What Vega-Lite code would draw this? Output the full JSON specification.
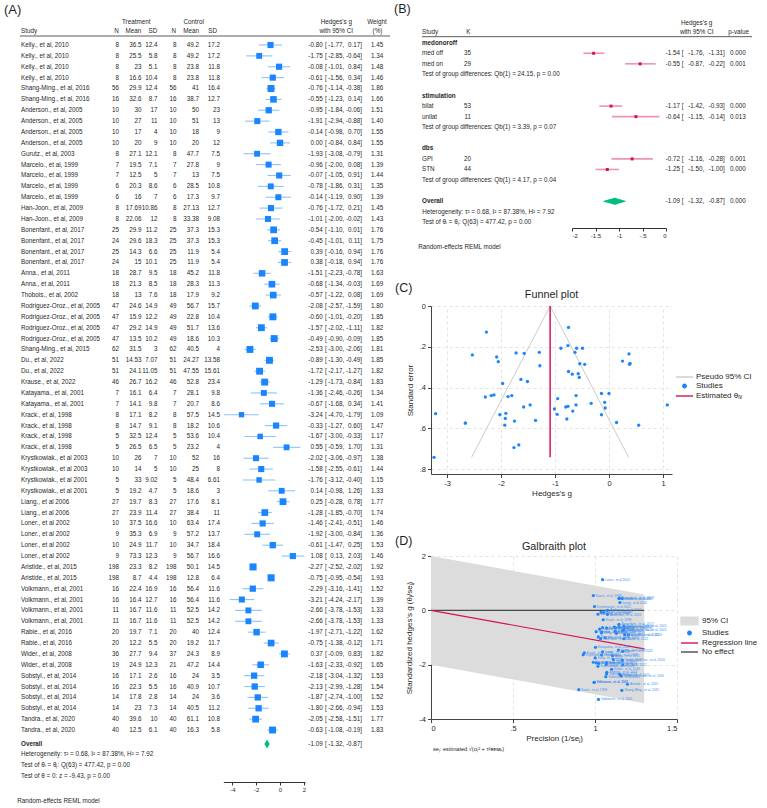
{
  "$schema": "https://vega.github.io/schema/vega-lite/v6.json",
  "padding": 0,
  "background": "white",
  "config": {
    "view": {"stroke": null},
    "font": "Liberation Sans",
    "locale": {"number": {"decimal": ".", "thousands": ",", "grouping": [3], "currency": ["$", ""], "minus": "-"}},
    "text": {"font": "Liberation Sans", "fontSize": 6.3, "baseline": "middle", "color": "#1f1f1f"},
    "axis": {"labelFont": "Liberation Sans", "titleFont": "Liberation Sans", "labelColor": "#1f1f1f", "titleColor": "#1f1f1f", "titleFontWeight": "normal", "domainColor": "#444", "tickColor": "#444", "labelFontSize": 7.5, "titleFontSize": 8, "tickSize": 3.5, "labelPadding": 2},
    "legend": {"labelFont": "Liberation Sans", "labelColor": "#1f1f1f"}
  },
  "datasets": {
    "studies": [
      {"id":1,"study":"Kelly., et al, 2010","nT":8,"mT":36.5,"sdT":12.4,"nC":8,"mC":49.2,"sdC":17.2,"g":-0.80,"lo":-1.77,"hi":0.17,"w":1.45,"se":0.495,"prec":1.040,"zg":-0.832},
      {"id":2,"study":"Kelly., et al, 2010","nT":8,"mT":25.5,"sdT":5.8,"nC":8,"mC":49.2,"sdC":17.2,"g":-1.75,"lo":-2.85,"hi":-0.64,"w":1.34,"se":0.564,"prec":1.001,"zg":-1.752},
      {"id":3,"study":"Kelly., et al, 2010","nT":8,"mT":23,"sdT":5.1,"nC":8,"mC":23.8,"sdC":11.8,"g":-0.08,"lo":-1.01,"hi":0.84,"w":1.48,"se":0.472,"prec":1.053,"zg":-0.084},
      {"id":4,"study":"Kelly., et al, 2010","nT":8,"mT":16.6,"sdT":10.4,"nC":8,"mC":23.8,"sdC":11.8,"g":-0.61,"lo":-1.56,"hi":0.34,"w":1.46,"se":0.485,"prec":1.046,"zg":-0.638},
      {"id":5,"study":"Shang-Ming., et al, 2016","nT":56,"mT":29.9,"sdT":12.4,"nC":56,"mC":41,"sdC":16.4,"g":-0.76,"lo":-1.14,"hi":-0.38,"w":1.86,"se":0.194,"prec":1.181,"zg":-0.897},
      {"id":6,"study":"Shang-Ming., et al, 2016","nT":16,"mT":32.6,"sdT":8.7,"nC":16,"mC":38.7,"sdC":12.7,"g":-0.55,"lo":-1.23,"hi":0.14,"w":1.66,"se":0.350,"prec":1.117,"zg":-0.614},
      {"id":7,"study":"Anderson., et al, 2005","nT":10,"mT":30,"sdT":17,"nC":10,"mC":50,"sdC":23,"g":-0.95,"lo":-1.84,"hi":-0.06,"w":1.51,"se":0.454,"prec":1.062,"zg":-1.009},
      {"id":8,"study":"Anderson., et al, 2005","nT":10,"mT":27,"sdT":11,"nC":10,"mC":51,"sdC":13,"g":-1.91,"lo":-2.94,"hi":-0.88,"w":1.40,"se":0.526,"prec":1.023,"zg":-1.953},
      {"id":9,"study":"Anderson., et al, 2005","nT":10,"mT":17,"sdT":4,"nC":10,"mC":18,"sdC":9,"g":-0.14,"lo":-0.98,"hi":0.70,"w":1.55,"se":0.429,"prec":1.076,"zg":-0.151},
      {"id":10,"study":"Anderson., et al, 2005","nT":10,"mT":20,"sdT":9,"nC":10,"mC":20,"sdC":12,"g":0.00,"lo":-0.84,"hi":0.84,"w":1.55,"se":0.429,"prec":1.076,"zg":0.0},
      {"id":11,"study":"Gurutz., et al, 2003","nT":8,"mT":27.1,"sdT":12.1,"nC":8,"mC":47.7,"sdC":7.5,"g":-1.93,"lo":-3.08,"hi":-0.79,"w":1.31,"se":0.584,"prec":0.990,"zg":-1.910},
      {"id":12,"study":"Marcelo., et al, 1999","nT":7,"mT":19.5,"sdT":7.1,"nC":7,"mC":27.8,"sdC":9,"g":-0.96,"lo":-2.00,"hi":0.08,"w":1.39,"se":0.531,"prec":1.020,"zg":-0.979},
      {"id":13,"study":"Marcelo., et al, 1999","nT":7,"mT":12.5,"sdT":5,"nC":7,"mC":13,"sdC":7.5,"g":-0.07,"lo":-1.05,"hi":0.91,"w":1.44,"se":0.500,"prec":1.037,"zg":-0.073},
      {"id":14,"study":"Marcelo., et al, 1999","nT":6,"mT":20.3,"sdT":8.6,"nC":6,"mC":28.5,"sdC":10.8,"g":-0.78,"lo":-1.86,"hi":0.31,"w":1.35,"se":0.554,"prec":1.007,"zg":-0.785},
      {"id":15,"study":"Marcelo., et al, 1999","nT":6,"mT":16,"sdT":7,"nC":6,"mC":17.3,"sdC":9.7,"g":-0.14,"lo":-1.19,"hi":0.90,"w":1.39,"se":0.533,"prec":1.018,"zg":-0.143},
      {"id":16,"study":"Han-Joon., et al, 2009","nT":8,"mT":17.69,"sdT":10.86,"nC":8,"mC":27.13,"sdC":12.7,"g":-0.76,"lo":-1.72,"hi":0.21,"w":1.45,"se":0.492,"prec":1.041,"zg":-0.791},
      {"id":17,"study":"Han-Joon., et al, 2009","nT":8,"mT":22.06,"sdT":12,"nC":8,"mC":33.38,"sdC":9.08,"g":-1.01,"lo":-2.00,"hi":-0.02,"w":1.43,"se":0.505,"prec":1.034,"zg":-1.044},
      {"id":18,"study":"Bonenfant., et al, 2017","nT":25,"mT":29.9,"sdT":11.2,"nC":25,"mC":37.3,"sdC":15.3,"g":-0.54,"lo":-1.10,"hi":0.01,"w":1.76,"se":0.283,"prec":1.147,"zg":-0.619},
      {"id":19,"study":"Bonenfant., et al, 2017","nT":24,"mT":29.6,"sdT":18.3,"nC":25,"mC":37.3,"sdC":15.3,"g":-0.45,"lo":-1.01,"hi":0.11,"w":1.75,"se":0.286,"prec":1.146,"zg":-0.516},
      {"id":20,"study":"Bonenfant., et al, 2017","nT":25,"mT":14.3,"sdT":6.6,"nC":25,"mC":11.9,"sdC":5.4,"g":0.39,"lo":-0.16,"hi":0.94,"w":1.76,"se":0.281,"prec":1.148,"zg":0.448},
      {"id":21,"study":"Bonenfant., et al, 2017","nT":24,"mT":15,"sdT":10.1,"nC":25,"mC":11.9,"sdC":5.4,"g":0.38,"lo":-0.18,"hi":0.94,"w":1.76,"se":0.286,"prec":1.146,"zg":0.435},
      {"id":22,"study":"Anna., et al, 2011","nT":18,"mT":28.7,"sdT":9.5,"nC":18,"mC":45.2,"sdC":11.8,"g":-1.51,"lo":-2.23,"hi":-0.78,"w":1.63,"se":0.370,"prec":1.107,"zg":-1.671},
      {"id":23,"study":"Anna., et al, 2011","nT":18,"mT":21.3,"sdT":8.5,"nC":18,"mC":28.3,"sdC":11.3,"g":-0.68,"lo":-1.34,"hi":-0.03,"w":1.69,"se":0.334,"prec":1.124,"zg":-0.764},
      {"id":24,"study":"Thobois., et al, 2002","nT":18,"mT":13,"sdT":7.6,"nC":18,"mC":17.9,"sdC":9.2,"g":-0.57,"lo":-1.22,"hi":0.08,"w":1.69,"se":0.332,"prec":1.125,"zg":-0.641},
      {"id":25,"study":"Rodriguez-Oroz., et al, 2005","nT":47,"mT":24.6,"sdT":14.9,"nC":49,"mC":56.7,"sdC":15.7,"g":-2.08,"lo":-2.57,"hi":-1.59,"w":1.80,"se":0.250,"prec":1.161,"zg":-2.414},
      {"id":26,"study":"Rodriguez-Oroz., et al, 2005","nT":47,"mT":15.9,"sdT":12.2,"nC":49,"mC":22.8,"sdC":10.4,"g":-0.60,"lo":-1.01,"hi":-0.20,"w":1.85,"se":0.207,"prec":1.176,"zg":-0.706},
      {"id":27,"study":"Rodriguez-Oroz., et al, 2005","nT":47,"mT":29.2,"sdT":14.9,"nC":49,"mC":51.7,"sdC":13.6,"g":-1.57,"lo":-2.02,"hi":-1.11,"w":1.82,"se":0.232,"prec":1.167,"zg":-1.833},
      {"id":28,"study":"Rodriguez-Oroz., et al, 2005","nT":47,"mT":13.5,"sdT":10.2,"nC":49,"mC":18.6,"sdC":10.3,"g":-0.49,"lo":-0.90,"hi":-0.09,"w":1.85,"se":0.207,"prec":1.176,"zg":-0.576},
      {"id":29,"study":"Shang-Ming., et al, 2015","nT":62,"mT":31.5,"sdT":3,"nC":62,"mC":40.5,"sdC":4,"g":-2.53,"lo":-3.00,"hi":-2.06,"w":1.81,"se":0.240,"prec":1.164,"zg":-2.946},
      {"id":30,"study":"Du., et al, 2022","nT":51,"mT":14.53,"sdT":7.07,"nC":51,"mC":24.27,"sdC":13.58,"g":-0.89,"lo":-1.30,"hi":-0.49,"w":1.85,"se":0.207,"prec":1.176,"zg":-1.047},
      {"id":31,"study":"Du., et al, 2022","nT":51,"mT":24.1,"sdT":11.05,"nC":51,"mC":47.55,"sdC":15.61,"g":-1.72,"lo":-2.17,"hi":-1.27,"w":1.82,"se":0.230,"prec":1.168,"zg":-2.009},
      {"id":32,"study":"Krause., et al, 2022","nT":46,"mT":26.7,"sdT":16.2,"nC":46,"mC":52.8,"sdC":23.4,"g":-1.29,"lo":-1.73,"hi":-0.84,"w":1.83,"se":0.227,"prec":1.169,"zg":-1.508},
      {"id":33,"study":"Katayama., et al, 2001","nT":7,"mT":16.1,"sdT":6.4,"nC":7,"mC":28.1,"sdC":9.8,"g":-1.36,"lo":-2.46,"hi":-0.26,"w":1.34,"se":0.561,"prec":1.003,"zg":-1.363},
      {"id":34,"study":"Katayama., et al, 2001","nT":7,"mT":14.1,"sdT":9.8,"nC":7,"mC":20.7,"sdC":8.6,"g":-0.67,"lo":-1.68,"hi":0.34,"w":1.41,"se":0.515,"prec":1.028,"zg":-0.689},
      {"id":35,"study":"Krack., et al, 1998","nT":8,"mT":17.1,"sdT":8.2,"nC":8,"mC":57.5,"sdC":14.5,"g":-3.24,"lo":-4.70,"hi":-1.79,"w":1.09,"se":0.742,"prec":0.901,"zg":-2.920},
      {"id":36,"study":"Krack., et al, 1998","nT":8,"mT":14.7,"sdT":9.1,"nC":8,"mC":18.2,"sdC":10.6,"g":-0.33,"lo":-1.27,"hi":0.60,"w":1.47,"se":0.477,"prec":1.050,"zg":-0.346},
      {"id":37,"study":"Krack., et al, 1998","nT":5,"mT":32.5,"sdT":12.4,"nC":5,"mC":53.6,"sdC":10.4,"g":-1.67,"lo":-3.00,"hi":-0.33,"w":1.17,"se":0.681,"prec":0.935,"zg":-1.562},
      {"id":38,"study":"Krack., et al, 1998","nT":5,"mT":26.5,"sdT":6.5,"nC":5,"mC":23.2,"sdC":4,"g":0.55,"lo":-0.59,"hi":1.70,"w":1.31,"se":0.584,"prec":0.990,"zg":0.544},
      {"id":39,"study":"Krystkowiak., et al 2003","nT":10,"mT":26,"sdT":7,"nC":10,"mC":52,"sdC":16,"g":-2.02,"lo":-3.06,"hi":-0.97,"w":1.38,"se":0.533,"prec":1.018,"zg":-2.057},
      {"id":40,"study":"Krystkowiak., et al 2003","nT":10,"mT":14,"sdT":5,"nC":10,"mC":25,"sdC":8,"g":-1.58,"lo":-2.55,"hi":-0.61,"w":1.44,"se":0.495,"prec":1.040,"zg":-1.643},
      {"id":41,"study":"Krystkowiak., et al 2001","nT":5,"mT":33,"sdT":9.02,"nC":5,"mC":48.4,"sdC":6.61,"g":-1.76,"lo":-3.12,"hi":-0.40,"w":1.15,"se":0.694,"prec":0.928,"zg":-1.633},
      {"id":42,"study":"Krystkowiak., et al 2001","nT":5,"mT":19.2,"sdT":4.7,"nC":5,"mC":18.6,"sdC":3,"g":0.14,"lo":-0.98,"hi":1.26,"w":1.33,"se":0.571,"prec":0.997,"zg":0.140},
      {"id":43,"study":"Liang., et al 2006","nT":27,"mT":19.7,"sdT":8.3,"nC":27,"mC":17.6,"sdC":8.1,"g":0.25,"lo":-0.28,"hi":0.78,"w":1.77,"se":0.270,"prec":1.152,"zg":0.288},
      {"id":44,"study":"Liang., et al 2006","nT":27,"mT":23.9,"sdT":11.4,"nC":27,"mC":38.4,"sdC":11,"g":-1.28,"lo":-1.85,"hi":-0.70,"w":1.74,"se":0.293,"prec":1.143,"zg":-1.462},
      {"id":45,"study":"Loner., et al 2002","nT":10,"mT":37.5,"sdT":16.6,"nC":10,"mC":63.4,"sdC":17.4,"g":-1.46,"lo":-2.41,"hi":-0.51,"w":1.46,"se":0.485,"prec":1.046,"zg":-1.526},
      {"id":46,"study":"Loner., et al 2002","nT":9,"mT":35.3,"sdT":6.9,"nC":9,"mC":57.2,"sdC":13.7,"g":-1.92,"lo":-3.00,"hi":-0.84,"w":1.36,"se":0.551,"prec":1.008,"zg":-1.936},
      {"id":47,"study":"Loner., et al 2002","nT":10,"mT":24.9,"sdT":11.7,"nC":10,"mC":34.7,"sdC":18.4,"g":-0.61,"lo":-1.47,"hi":0.25,"w":1.53,"se":0.439,"prec":1.071,"zg":-0.653},
      {"id":48,"study":"Loner., et al 2002","nT":9,"mT":73.3,"sdT":12.3,"nC":9,"mC":56.7,"sdC":16.6,"g":1.08,"lo":0.13,"hi":2.03,"w":1.46,"se":0.485,"prec":1.046,"zg":1.129},
      {"id":49,"study":"Aristide., et al, 2015","nT":198,"mT":23.3,"sdT":8.2,"nC":198,"mC":50.1,"sdC":14.5,"g":-2.27,"lo":-2.52,"hi":-2.02,"w":1.92,"se":0.128,"prec":1.198,"zg":-2.721},
      {"id":50,"study":"Aristide., et al, 2015","nT":198,"mT":8.7,"sdT":4.4,"nC":198,"mC":12.8,"sdC":6.4,"g":-0.75,"lo":-0.95,"hi":-0.54,"w":1.93,"se":0.105,"prec":1.203,"zg":-0.902},
      {"id":51,"study":"Volkmann., et al, 2001","nT":16,"mT":22.4,"sdT":16.9,"nC":16,"mC":56.4,"sdC":11.6,"g":-2.29,"lo":-3.16,"hi":-1.41,"w":1.52,"se":0.446,"prec":1.066,"zg":-2.442},
      {"id":52,"study":"Volkmann., et al, 2001","nT":16,"mT":16.4,"sdT":12.7,"nC":16,"mC":56.4,"sdC":11.6,"g":-3.21,"lo":-4.24,"hi":-2.17,"w":1.39,"se":0.528,"prec":1.021,"zg":-3.278},
      {"id":53,"study":"Volkmann., et al, 2001","nT":11,"mT":16.7,"sdT":11.6,"nC":11,"mC":52.5,"sdC":14.2,"g":-2.66,"lo":-3.78,"hi":-1.53,"w":1.33,"se":0.574,"prec":0.995,"zg":-2.648},
      {"id":54,"study":"Volkmann., et al, 2001","nT":11,"mT":16.7,"sdT":11.6,"nC":11,"mC":52.5,"sdC":14.2,"g":-2.66,"lo":-3.78,"hi":-1.53,"w":1.33,"se":0.574,"prec":0.995,"zg":-2.648},
      {"id":55,"study":"Rabie., et al, 2016","nT":20,"mT":19.7,"sdT":7.1,"nC":20,"mC":40,"sdC":12.4,"g":-1.97,"lo":-2.71,"hi":-1.22,"w":1.62,"se":0.380,"prec":1.101,"zg":-2.170},
      {"id":56,"study":"Rabie., et al, 2016","nT":20,"mT":12.2,"sdT":5.5,"nC":20,"mC":19.2,"sdC":11.7,"g":-0.75,"lo":-1.38,"hi":-0.12,"w":1.71,"se":0.321,"prec":1.130,"zg":-0.847},
      {"id":57,"study":"Wider., et al, 2008","nT":36,"mT":27.7,"sdT":9.4,"nC":37,"mC":24.3,"sdC":8.9,"g":0.37,"lo":-0.09,"hi":0.83,"w":1.82,"se":0.235,"prec":1.166,"zg":0.432},
      {"id":58,"study":"Wider., et al, 2008","nT":19,"mT":24.9,"sdT":12.3,"nC":21,"mC":47.2,"sdC":14.4,"g":-1.63,"lo":-2.33,"hi":-0.92,"w":1.65,"se":0.360,"prec":1.112,"zg":-1.812},
      {"id":59,"study":"Sobstyl., et al, 2014","nT":16,"mT":17.1,"sdT":2.6,"nC":16,"mC":24,"sdC":3.5,"g":-2.18,"lo":-3.04,"hi":-1.32,"w":1.53,"se":0.439,"prec":1.071,"zg":-2.334},
      {"id":60,"study":"Sobstyl., et al, 2014","nT":16,"mT":22.3,"sdT":5.5,"nC":16,"mC":40.9,"sdC":10.7,"g":-2.13,"lo":-2.99,"hi":-1.28,"w":1.54,"se":0.436,"prec":1.072,"zg":-2.283},
      {"id":61,"study":"Sobstyl., et al, 2014","nT":14,"mT":17.8,"sdT":2.8,"nC":14,"mC":24,"sdC":3.6,"g":-1.87,"lo":-2.74,"hi":-1.00,"w":1.52,"se":0.444,"prec":1.068,"zg":-1.997},
      {"id":62,"study":"Sobstyl., et al, 2014","nT":14,"mT":23,"sdT":7.3,"nC":14,"mC":40.5,"sdC":11.2,"g":-1.80,"lo":-2.66,"hi":-0.94,"w":1.53,"se":0.439,"prec":1.071,"zg":-1.927},
      {"id":63,"study":"Tandra., et al, 2020","nT":40,"mT":39.6,"sdT":10,"nC":40,"mC":61.1,"sdC":10.8,"g":-2.05,"lo":-2.58,"hi":-1.51,"w":1.77,"se":0.273,"prec":1.151,"zg":-2.360},
      {"id":64,"study":"Tandra., et al, 2020","nT":40,"mT":12.5,"sdT":6.1,"nC":40,"mC":16.3,"sdC":5.8,"g":-0.63,"lo":-1.08,"hi":-0.19,"w":1.83,"se":0.227,"prec":1.169,"zg":-0.737}
    ],
    "overall": [{"g": -1.09, "lo": -1.32, "hi": -0.87, "p": 0}],
    "subB": [
      {"label": "med off", "k": 35, "g": -1.54, "lo": -1.76, "hi": -1.31, "p": 0.000, "line": 1},
      {"label": "med on", "k": 29, "g": -0.55, "lo": -0.87, "hi": -0.22, "p": 0.001, "line": 2},
      {"label": "bilat", "k": 53, "g": -1.17, "lo": -1.42, "hi": -0.93, "p": 0.000, "line": 6},
      {"label": "unilat", "k": 11, "g": -0.64, "lo": -1.15, "hi": -0.14, "p": 0.013, "line": 7},
      {"label": "GPI", "k": 20, "g": -0.72, "lo": -1.16, "hi": -0.28, "p": 0.001, "line": 11},
      {"label": "STN", "k": 44, "g": -1.25, "lo": -1.50, "hi": -1.00, "p": 0.000, "line": 12}
    ],
    "groupsB": [
      {"label": "medonoroff", "line": 0},
      {"label": "stimulation", "line": 5},
      {"label": "dbs", "line": 10}
    ],
    "testsB": [
      {"label": "Test of group differences: Qb(1) = 24.15, p = 0.00", "line": 3},
      {"label": "Test of group differences: Qb(1) = 3.39, p = 0.07", "line": 8},
      {"label": "Test of group differences: Qb(1) = 4.17, p = 0.04", "line": 13}
    ],
    "funnelCI": [{"g": -2.545, "se": 0.742}, {"g": -1.09, "se": 0}, {"g": 0.365, "se": 0.742}],
    "thetaLine": [{"g": -1.09, "top": 0, "bottom": 0.742}],
    "band": [{"prec": 0, "lo": -2, "hi": 2}, {"prec": 1.3, "lo": -3.417, "hi": 0.583}],
    "noEffect": [{"prec": 0, "z": 0}, {"prec": 1.3, "z": 0}],
    "regLine": [{"prec": 0, "z": 0}, {"prec": 1.3, "z": -1.417}]
  },
  "bounds": "flush",
  "spacing": 43,
  "resolve": {"scale": {"x": "independent", "y": "independent", "color": "independent", "size": "independent"}, "legend": {"color": "independent", "size": "independent"}},
  "hconcat": [
    {
      "width": 388,
      "height": 782,
      "data": {"name": "studies"},
      "resolve": {"scale": {"x": "independent", "size": "independent"}},
      "layer": [
        {
          "layer": [
            {"data": {"values": [{}]}, "mark": {"type": "text", "text": "(A)", "fontSize": 13, "align": "left"}, "encoding": {"x": {"datum": 4, "type": "quantitative", "scale": {"domain": [0, 388], "nice": false, "zero": false}, "axis": null}, "y": {"datum": -2.219, "type": "quantitative", "scale": {"domain": [-3.139, 68.78], "reverse": true, "nice": false, "zero": false}, "axis": null}}},
            {"data": {"values": [{}]}, "mark": {"type": "text", "text": "Treatment", "align": "center"}, "encoding": {"x": {"datum": 136.2, "axis": null}, "y": {"datum": -1.115, "axis": null}}},
            {"data": {"values": [{}]}, "mark": {"type": "text", "text": "Control", "align": "center"}, "encoding": {"x": {"datum": 193.7, "axis": null}, "y": {"datum": -1.115, "axis": null}}},
            {"data": {"values": [{}]}, "mark": {"type": "text", "text": "Hedges's g", "align": "center"}, "encoding": {"x": {"datum": 336.3, "axis": null}, "y": {"datum": -1.115, "axis": null}}},
            {"data": {"values": [{}]}, "mark": {"type": "text", "text": "with 95% CI", "align": "center"}, "encoding": {"x": {"datum": 336.2, "axis": null}, "y": {"datum": -0.288, "axis": null}}},
            {"data": {"values": [{}]}, "mark": {"type": "text", "text": "Weight", "align": "center"}, "encoding": {"x": {"datum": 377, "axis": null}, "y": {"datum": -1.115, "axis": null}}},
            {"data": {"values": [{}]}, "mark": {"type": "text", "text": "(%)", "align": "center"}, "encoding": {"x": {"datum": 377.5, "axis": null}, "y": {"datum": -0.288, "axis": null}}},
            {"data": {"values": [{}]}, "mark": {"type": "text", "text": "Study", "align": "left"}, "encoding": {"x": {"datum": 21, "axis": null}, "y": {"datum": -0.288, "axis": null}}},
            {"data": {"values": [{}]}, "mark": {"type": "text", "text": "N", "align": "right"}, "encoding": {"x": {"datum": 118.7, "axis": null}, "y": {"datum": -0.288, "axis": null}}},
            {"data": {"values": [{}]}, "mark": {"type": "text", "text": "Mean", "align": "right"}, "encoding": {"x": {"datum": 141.3, "axis": null}, "y": {"datum": -0.288, "axis": null}}},
            {"data": {"values": [{}]}, "mark": {"type": "text", "text": "SD", "align": "right"}, "encoding": {"x": {"datum": 157.3, "axis": null}, "y": {"datum": -0.288, "axis": null}}},
            {"data": {"values": [{}]}, "mark": {"type": "text", "text": "N", "align": "right"}, "encoding": {"x": {"datum": 176, "axis": null}, "y": {"datum": -0.288, "axis": null}}},
            {"data": {"values": [{}]}, "mark": {"type": "text", "text": "Mean", "align": "right"}, "encoding": {"x": {"datum": 199, "axis": null}, "y": {"datum": -0.288, "axis": null}}},
            {"data": {"values": [{}]}, "mark": {"type": "text", "text": "SD", "align": "right"}, "encoding": {"x": {"datum": 217, "axis": null}, "y": {"datum": -0.288, "axis": null}}},
            {"data": {"values": [{}]}, "mark": {"type": "rule", "color": "#333", "strokeWidth": 0.8}, "encoding": {"x": {"datum": 20, "axis": null}, "x2": {"datum": 390}, "y": {"datum": 0.172, "axis": null}}},
            {"mark": {"type": "text", "align": "left"}, "encoding": {"x": {"datum": 21, "axis": null}, "y": {"field": "id", "type": "quantitative", "axis": null}, "text": {"field": "study", "type": "nominal"}}},
            {"mark": {"type": "text", "align": "right"}, "encoding": {"x": {"datum": 119, "axis": null}, "y": {"field": "id", "type": "quantitative", "axis": null}, "text": {"field": "nT", "type": "quantitative"}}},
            {"mark": {"type": "text", "align": "right"}, "encoding": {"x": {"datum": 141.5, "axis": null}, "y": {"field": "id", "type": "quantitative", "axis": null}, "text": {"field": "mT", "type": "quantitative"}}},
            {"mark": {"type": "text", "align": "right"}, "encoding": {"x": {"datum": 157.5, "axis": null}, "y": {"field": "id", "type": "quantitative", "axis": null}, "text": {"field": "sdT", "type": "quantitative"}}},
            {"mark": {"type": "text", "align": "right"}, "encoding": {"x": {"datum": 176.5, "axis": null}, "y": {"field": "id", "type": "quantitative", "axis": null}, "text": {"field": "nC", "type": "quantitative"}}},
            {"mark": {"type": "text", "align": "right"}, "encoding": {"x": {"datum": 199, "axis": null}, "y": {"field": "id", "type": "quantitative", "axis": null}, "text": {"field": "mC", "type": "quantitative"}}},
            {"mark": {"type": "text", "align": "right"}, "encoding": {"x": {"datum": 220, "axis": null}, "y": {"field": "id", "type": "quantitative", "axis": null}, "text": {"field": "sdC", "type": "quantitative"}}},
            {"mark": {"type": "text", "align": "right"}, "encoding": {"x": {"datum": 322.7, "axis": null}, "y": {"field": "id", "type": "quantitative", "axis": null}, "text": {"field": "g", "type": "quantitative", "format": ".2f"}}},
            {"mark": {"type": "text", "align": "left", "text": "["}, "encoding": {"x": {"datum": 325, "axis": null}, "y": {"field": "id", "type": "quantitative", "axis": null}}},
            {"mark": {"type": "text", "align": "right"}, "encoding": {"x": {"datum": 342.6, "axis": null}, "y": {"field": "id", "type": "quantitative", "axis": null}, "text": {"field": "lo", "type": "quantitative", "format": ".2f"}}},
            {"mark": {"type": "text", "align": "left", "text": ","}, "encoding": {"x": {"datum": 342.6, "axis": null}, "y": {"field": "id", "type": "quantitative", "axis": null}}},
            {"mark": {"type": "text", "align": "right"}, "encoding": {"x": {"datum": 360.25, "axis": null}, "y": {"field": "id", "type": "quantitative", "axis": null}, "text": {"field": "hi", "type": "quantitative", "format": ".2f"}}},
            {"mark": {"type": "text", "align": "left", "text": "]"}, "encoding": {"x": {"datum": 360.25, "axis": null}, "y": {"field": "id", "type": "quantitative", "axis": null}}},
            {"mark": {"type": "text", "align": "right"}, "encoding": {"x": {"datum": 383.3, "axis": null}, "y": {"field": "id", "type": "quantitative", "axis": null}, "text": {"field": "w", "type": "quantitative", "format": ".2f"}}},
            {"data": {"values": [{}]}, "mark": {"type": "text", "text": "Overall", "align": "left", "fontWeight": "bold"}, "encoding": {"x": {"datum": 21, "axis": null}, "y": {"datum": 65.29, "axis": null}}},
            {"data": {"name": "overall"}, "mark": {"type": "text", "align": "right"}, "encoding": {"x": {"datum": 322.7, "axis": null}, "y": {"datum": 65.29, "axis": null}, "text": {"field": "g", "type": "quantitative", "format": ".2f"}}},
            {"data": {"name": "overall"}, "mark": {"type": "text", "align": "left", "text": "["}, "encoding": {"x": {"datum": 325, "axis": null}, "y": {"datum": 65.29, "axis": null}}},
            {"data": {"name": "overall"}, "mark": {"type": "text", "align": "right"}, "encoding": {"x": {"datum": 342.6, "axis": null}, "y": {"datum": 65.29, "axis": null}, "text": {"field": "lo", "type": "quantitative", "format": ".2f"}}},
            {"data": {"name": "overall"}, "mark": {"type": "text", "align": "left", "text": ","}, "encoding": {"x": {"datum": 342.6, "axis": null}, "y": {"datum": 65.29, "axis": null}}},
            {"data": {"name": "overall"}, "mark": {"type": "text", "align": "right"}, "encoding": {"x": {"datum": 360.25, "axis": null}, "y": {"datum": 65.29, "axis": null}, "text": {"field": "hi", "type": "quantitative", "format": ".2f"}}},
            {"data": {"name": "overall"}, "mark": {"type": "text", "align": "left", "text": "]"}, "encoding": {"x": {"datum": 360.25, "axis": null}, "y": {"datum": 65.29, "axis": null}}},
            {"data": {"values": [{}]}, "mark": {"type": "text", "text": "Heterogeneity: τ² = 0.68, I² = 87.38%, H² = 7.92", "align": "left"}, "encoding": {"x": {"datum": 21, "axis": null}, "y": {"datum": 66.24, "axis": null}}},
            {"data": {"values": [{}]}, "mark": {"type": "text", "text": "Test of θᵢ = θⱼ: Q(63) = 477.42, p = 0.00", "align": "left"}, "encoding": {"x": {"datum": 21, "axis": null}, "y": {"datum": 67.25, "axis": null}}},
            {"data": {"values": [{}]}, "mark": {"type": "text", "text": "Test of θ = 0: z = -9.43, p = 0.00", "align": "left"}, "encoding": {"x": {"datum": 21, "axis": null}, "y": {"datum": 68.26, "axis": null}}},
            {"data": {"values": [{}]}, "mark": {"type": "text", "text": "Random-effects REML model", "align": "left"}, "encoding": {"x": {"datum": 17.3, "axis": null}, "y": {"datum": 70.5, "axis": null}}}
          ]
        },
        {
          "layer": [
            {"mark": {"type": "rule", "color": "#1a85ff", "opacity": 0.5, "strokeWidth": 1.1}, "encoding": {"x": {"field": "lo", "type": "quantitative", "scale": {"domain": [-4.77, 2.1], "range": [223.3, 305], "nice": false, "zero": false}, "axis": {"values": [-4, -2, 0, 2], "title": null, "grid": false, "labelFontSize": 6, "tickSize": 3, "labelPadding": 1, "domainColor": "#333", "tickColor": "#333", "labelExpr": "replace(replace(format(datum.value, '~g'), '\u2212', '-'), '0.', '.')"}}, "x2": {"field": "hi"}, "y": {"field": "id", "type": "quantitative", "scale": {"domain": [-3.139, 68.78], "reverse": true, "nice": false, "zero": false}, "axis": null}}},
            {"mark": {"type": "point", "shape": "square", "filled": true, "color": "#1a85ff", "opacity": 1}, "encoding": {"x": {"field": "g", "type": "quantitative"}, "y": {"field": "id", "type": "quantitative", "axis": null}, "size": {"field": "w", "type": "quantitative", "scale": {"domain": [0, 2], "range": [0, 52]}, "legend": null}}},
            {"data": {"name": "overall"}, "mark": {"type": "point", "shape": "M-0.6,0L0,-1L0.6,0L0,1Z", "filled": true, "size": 81, "color": "#00bf7f", "opacity": 1}, "encoding": {"x": {"field": "g", "type": "quantitative"}, "y": {"datum": 65.29, "axis": null}}}
          ]
        }
      ]
    },
    {
      "bounds": "flush",
      "spacing": 78,
      "resolve": {"scale": {"x": "independent", "y": "independent", "color": "independent", "size": "independent"}, "legend": {"color": "independent", "size": "independent"}},
      "vconcat": [
        {
          "width": 336,
          "height": 228,
          "resolve": {"scale": {"x": "independent", "size": "independent"}},
          "layer": [
            {
              "layer": [
                {"data": {"values": [{}]}, "mark": {"type": "text", "text": "(B)", "fontSize": 12.5, "align": "left"}, "encoding": {"x": {"datum": -37, "type": "quantitative", "scale": {"domain": [0, 336], "nice": false, "zero": false}, "axis": null}, "y": {"datum": -3.16, "type": "quantitative", "scale": {"domain": [-4.042, 17.54], "reverse": true, "nice": false, "zero": false}, "axis": null}}},
                {"data": {"values": [{}]}, "mark": {"type": "text", "text": "Hedges's g", "align": "center"}, "encoding": {"x": {"datum": 265.7, "axis": null}, "y": {"datum": -1.84, "axis": null}}},
                {"data": {"values": [{}]}, "mark": {"type": "text", "text": "with 95% CI", "align": "center"}, "encoding": {"x": {"datum": 265.7, "axis": null}, "y": {"datum": -1.01, "axis": null}}},
                {"data": {"values": [{}]}, "mark": {"type": "text", "text": "Study", "align": "left"}, "encoding": {"x": {"datum": -9, "axis": null}, "y": {"datum": -1.01, "axis": null}}},
                {"data": {"values": [{}]}, "mark": {"type": "text", "text": "K", "align": "right"}, "encoding": {"x": {"datum": 39.5, "axis": null}, "y": {"datum": -1.01, "axis": null}}},
                {"data": {"values": [{}]}, "mark": {"type": "text", "text": "p-value", "align": "left"}, "encoding": {"x": {"datum": 297.3, "axis": null}, "y": {"datum": -1.01, "axis": null}}},
                {"data": {"values": [{}]}, "mark": {"type": "rule", "color": "#333", "strokeWidth": 0.8}, "encoding": {"x": {"datum": -9, "axis": null}, "x2": {"datum": 321}, "y": {"datum": -0.57, "axis": null}}},
                {"data": {"name": "groupsB"}, "mark": {"type": "text", "align": "left", "fontWeight": "bold"}, "encoding": {"x": {"datum": -9, "axis": null}, "y": {"field": "line", "type": "quantitative", "axis": null}, "text": {"field": "label", "type": "nominal"}}},
                {"data": {"name": "subB"}, "mark": {"type": "text", "align": "left"}, "encoding": {"x": {"datum": -9, "axis": null}, "y": {"field": "line", "type": "quantitative", "axis": null}, "text": {"field": "label", "type": "nominal"}}},
                {"data": {"name": "subB"}, "mark": {"type": "text", "align": "right"}, "encoding": {"x": {"datum": 40, "axis": null}, "y": {"field": "line", "type": "quantitative", "axis": null}, "text": {"field": "k", "type": "quantitative"}}},
                {"data": {"name": "subB"}, "mark": {"type": "text", "align": "right"}, "encoding": {"x": {"datum": 249, "axis": null}, "y": {"field": "line", "type": "quantitative", "axis": null}, "text": {"field": "g", "type": "quantitative", "format": ".2f"}}},
                {"data": {"name": "subB"}, "mark": {"type": "text", "align": "left", "text": "["}, "encoding": {"x": {"datum": 250.8, "axis": null}, "y": {"field": "line", "type": "quantitative", "axis": null}}},
                {"data": {"name": "subB"}, "mark": {"type": "text", "align": "right"}, "encoding": {"x": {"datum": 271.5, "axis": null}, "y": {"field": "line", "type": "quantitative", "axis": null}, "text": {"field": "lo", "type": "quantitative", "format": ".2f"}}},
                {"data": {"name": "subB"}, "mark": {"type": "text", "align": "left", "text": ","}, "encoding": {"x": {"datum": 271.5, "axis": null}, "y": {"field": "line", "type": "quantitative", "axis": null}}},
                {"data": {"name": "subB"}, "mark": {"type": "text", "align": "right"}, "encoding": {"x": {"datum": 292, "axis": null}, "y": {"field": "line", "type": "quantitative", "axis": null}, "text": {"field": "hi", "type": "quantitative", "format": ".2f"}}},
                {"data": {"name": "subB"}, "mark": {"type": "text", "align": "left", "text": "]"}, "encoding": {"x": {"datum": 292.1, "axis": null}, "y": {"field": "line", "type": "quantitative", "axis": null}}},
                {"data": {"name": "subB"}, "mark": {"type": "text", "align": "right"}, "encoding": {"x": {"datum": 314.7, "axis": null}, "y": {"field": "line", "type": "quantitative", "axis": null}, "text": {"field": "p", "type": "quantitative", "format": ".3f"}}},
                {"data": {"name": "testsB"}, "mark": {"type": "text", "align": "left"}, "encoding": {"x": {"datum": -9, "axis": null}, "y": {"field": "line", "type": "quantitative", "axis": null}, "text": {"field": "label", "type": "nominal"}}},
                {"data": {"values": [{}]}, "mark": {"type": "text", "text": "Overall", "align": "left", "fontWeight": "bold"}, "encoding": {"x": {"datum": -9, "axis": null}, "y": {"datum": 15, "axis": null}}},
                {"data": {"name": "overall"}, "mark": {"type": "text", "align": "right"}, "encoding": {"x": {"datum": 249, "axis": null}, "y": {"datum": 15, "axis": null}, "text": {"field": "g", "type": "quantitative", "format": ".2f"}}},
                {"data": {"name": "overall"}, "mark": {"type": "text", "align": "left", "text": "["}, "encoding": {"x": {"datum": 250.8, "axis": null}, "y": {"datum": 15, "axis": null}}},
                {"data": {"name": "overall"}, "mark": {"type": "text", "align": "right"}, "encoding": {"x": {"datum": 271.5, "axis": null}, "y": {"datum": 15, "axis": null}, "text": {"field": "lo", "type": "quantitative", "format": ".2f"}}},
                {"data": {"name": "overall"}, "mark": {"type": "text", "align": "left", "text": ","}, "encoding": {"x": {"datum": 271.5, "axis": null}, "y": {"datum": 15, "axis": null}}},
                {"data": {"name": "overall"}, "mark": {"type": "text", "align": "right"}, "encoding": {"x": {"datum": 292, "axis": null}, "y": {"datum": 15, "axis": null}, "text": {"field": "hi", "type": "quantitative", "format": ".2f"}}},
                {"data": {"name": "overall"}, "mark": {"type": "text", "align": "left", "text": "]"}, "encoding": {"x": {"datum": 292.1, "axis": null}, "y": {"datum": 15, "axis": null}}},
                {"data": {"name": "overall"}, "mark": {"type": "text", "align": "right"}, "encoding": {"x": {"datum": 314.7, "axis": null}, "y": {"datum": 15, "axis": null}, "text": {"field": "p", "type": "quantitative", "format": ".3f"}}},
                {"data": {"values": [{}]}, "mark": {"type": "text", "text": "Heterogeneity: τ² = 0.68, I² = 87.38%, H² = 7.92", "align": "left"}, "encoding": {"x": {"datum": -8.7, "axis": null}, "y": {"datum": 16, "axis": null}}},
                {"data": {"values": [{}]}, "mark": {"type": "text", "text": "Test of θᵢ = θⱼ: Q(63) = 477.42, p = 0.00", "align": "left"}, "encoding": {"x": {"datum": -8.7, "axis": null}, "y": {"datum": 17, "axis": null}}},
                {"data": {"values": [{}]}, "mark": {"type": "text", "text": "Random-effects REML model", "align": "left"}, "encoding": {"x": {"datum": -12.7, "axis": null}, "y": {"datum": 19.34, "axis": null}}}
              ]
            },
            {
              "resolve": {"scale": {"size": "independent"}},
              "layer": [
                {"data": {"name": "subB"}, "mark": {"type": "rule", "color": "#d41159", "opacity": 0.45, "strokeWidth": 1.6}, "encoding": {"x": {"field": "lo", "type": "quantitative", "scale": {"domain": [-2, 0], "range": [141, 235], "nice": false, "zero": false}, "axis": {"values": [-2, -1.5, -1, -0.5, 0], "title": null, "grid": false, "labelFontSize": 6, "tickSize": 3, "labelPadding": 1, "domainColor": "#333", "tickColor": "#333", "labelExpr": "replace(replace(format(datum.value, '~g'), '\u2212', '-'), '0.', '.')"}}, "x2": {"field": "hi"}, "y": {"field": "line", "type": "quantitative", "scale": {"domain": [-4.042, 17.54], "reverse": true, "nice": false, "zero": false}, "axis": null}}},
                {"data": {"name": "subB"}, "mark": {"type": "point", "shape": "square", "filled": true, "size": 9, "color": "#d41159", "opacity": 1}, "encoding": {"x": {"field": "g", "type": "quantitative"}, "y": {"field": "line", "type": "quantitative", "axis": null}}},
                {"data": {"name": "overall"}, "transform": [{"fold": ["lo", "g", "hi"], "as": ["part", "val"]}], "mark": {"type": "trail", "color": "#00bf7f"}, "encoding": {"x": {"field": "val", "type": "quantitative"}, "y": {"datum": 15, "axis": null}, "size": {"field": "part", "type": "ordinal", "scale": {"type": "ordinal", "domain": ["lo", "g", "hi"], "range": [0, 7, 0]}, "legend": null}}}
              ]
            }
          ]
        },
        {
          "bounds": "flush",
          "spacing": 82,
          "resolve": {"scale": {"x": "independent", "y": "independent", "color": "independent", "size": "independent"}, "legend": {"color": "independent", "size": "independent"}},
          "vconcat": [
            {
              "width": 241,
              "height": 168,
              "layer": [
                {
                  "data": {"name": "funnelCI"},
                  "mark": {"type": "line", "strokeWidth": 1},
                  "encoding": {
                    "x": {"field": "g", "type": "quantitative", "scale": {"domain": [-3.296, 1.167], "nice": false, "zero": false}, "axis": {"values": [-3, -2, -1, 0, 1], "title": "Hedges's g", "grid": true, "gridDash": [3, 3], "gridColor": "#e3e3e3", "titlePadding": 2, "labelExpr": "replace(replace(format(datum.value, '~g'), '\u2212', '-'), '0.', '.')"}},
                    "y": {"field": "se", "type": "quantitative", "scale": {"domain": [0, 0.8235], "reverse": true, "nice": false, "zero": false}, "axis": {"values": [0, 0.2, 0.4, 0.6, 0.8], "title": "Standard error", "grid": true, "gridDash": [3, 3], "gridColor": "#e3e3e3", "titlePadding": 5, "labelExpr": "replace(replace(format(datum.value, '~g'), '\u2212', '-'), '0.', '.')"}},
                    "color": {
                      "datum": "Pseudo 95% CI",
                      "type": "nominal",
                      "scale": {"domain": ["Pseudo 95% CI", "Studies", "Estimated θᵢᵥ"], "range": ["#cccccc", "#1a85ff", "#d41159"]},
                      "legend": {"title": null, "orient": "none", "legendX": 248.5, "legendY": 66, "padding": 0, "labelFontSize": 8, "labelOffset": 6.5, "symbolType": "stroke", "symbolSize": 64, "rowPadding": 0, "encode": {"symbols": {"update": {"shape": {"signal": "datum.value === 'Studies' ? 'M0.425,0A0.425,0.425,0,1,1,-0.425,0A0.425,0.425,0,1,1,0.425,0Z' : 'M-2.125,0L2.125,0'"}, "fill": {"signal": "datum.value === 'Studies' ? '#1a85ff' : 'transparent'"}, "stroke": {"signal": "datum.value === 'Studies' ? 'transparent' : datum.value === 'Pseudo 95% CI' ? '#cccccc' : '#d41159'"}, "strokeWidth": {"value": 1.4}, "opacity": {"value": 1}}}}}
                    }
                  }
                },
                {"data": {"name": "thetaLine"}, "mark": {"type": "rule", "strokeWidth": 1.5}, "encoding": {"x": {"field": "g", "type": "quantitative"}, "y": {"field": "top", "type": "quantitative"}, "y2": {"field": "bottom"}, "color": {"datum": "Estimated θᵢᵥ", "type": "nominal"}}},
                {"data": {"name": "studies"}, "mark": {"type": "point", "filled": true, "size": 11, "opacity": 1}, "encoding": {"x": {"field": "g", "type": "quantitative"}, "y": {"field": "se", "type": "quantitative"}, "color": {"datum": "Studies", "type": "nominal"}}},
                {"data": {"values": [{}]}, "mark": {"type": "text", "text": "(C)", "fontSize": 12.5, "align": "left"}, "encoding": {"x": {"datum": -3.963}, "y": {"datum": -0.088}}},
                {"data": {"values": [{}]}, "mark": {"type": "text", "text": "Funnel plot", "fontSize": 10.8, "align": "center"}, "encoding": {"x": {"datum": -1.0645}, "y": {"datum": -0.054}}}
              ]
            },
            {
              "width": 246,
              "height": 163,
              "layer": [
                {
                  "data": {"name": "band"},
                  "mark": {"type": "area", "opacity": 1},
                  "encoding": {
                    "x": {"field": "prec", "type": "quantitative", "scale": {"domain": [0, 1.5], "nice": false, "zero": false}, "axis": {"values": [0, 0.5, 1, 1.5], "title": "Precision (1/seⱼ)", "grid": true, "gridDash": [3, 3], "gridColor": "#e3e3e3", "titlePadding": 2, "labelExpr": "replace(replace(format(datum.value, '~g'), '\u2212', '-'), '0.', '.')"}},
                    "y": {"field": "lo", "type": "quantitative", "scale": {"domain": [-4, 2], "nice": false, "zero": false}, "axis": {"values": [-4, -2, 0, 2], "title": "Standardized hedges's g (θⱼ/seⱼ)", "grid": true, "gridDash": [3, 3], "gridColor": "#e3e3e3", "titlePadding": 5, "labelExpr": "replace(replace(format(datum.value, '~g'), '\u2212', '-'), '0.', '.')"}},
                    "y2": {"field": "hi"},
                    "color": {"datum": "95% CI", "type": "nominal", "scale": {"domain": ["95% CI", "Studies", "Regression line", "No effect"], "range": ["#dcdcdc", "#1a85ff", "#d41159", "#4a4a4a"]}}
                  }
                },
                {
                  "data": {"name": "noEffect"},
                  "mark": {"type": "line", "strokeWidth": 1.2},
                  "encoding": {
                    "x": {"field": "prec", "type": "quantitative"},
                    "y": {"field": "z", "type": "quantitative"},
                    "color": {
                      "datum": "No effect",
                      "type": "nominal",
                      "legend": {"title": null, "orient": "none", "legendX": 253.5, "legendY": 60, "padding": 0, "labelFontSize": 8, "labelOffset": 7.5, "symbolType": "stroke", "symbolSize": 64, "rowPadding": 0, "encode": {"symbols": {"update": {"shape": {"signal": "datum.value === 'Studies' ? 'M0.425,0A0.425,0.425,0,1,1,-0.425,0A0.425,0.425,0,1,1,0.425,0Z' : datum.value === '95% CI' ? 'M-2.125,-0.956H2.125V0.956H-2.125Z' : 'M-2.125,0L2.125,0'"}, "fill": {"signal": "datum.value === 'Studies' ? '#1a85ff' : datum.value === '95% CI' ? '#dcdcdc' : 'transparent'"}, "stroke": {"signal": "datum.value === 'Regression line' ? '#d41159' : datum.value === 'No effect' ? '#4a4a4a' : 'transparent'"}, "strokeWidth": {"value": 1.4}, "opacity": {"value": 1}}}}}
                    }
                  }
                },
                {"data": {"name": "regLine"}, "mark": {"type": "line", "strokeWidth": 1.2}, "encoding": {"x": {"field": "prec", "type": "quantitative"}, "y": {"field": "z", "type": "quantitative"}, "color": {"datum": "Regression line", "type": "nominal"}}},
                {"data": {"name": "studies"}, "mark": {"type": "point", "filled": true, "size": 10, "opacity": 1}, "encoding": {"x": {"field": "prec", "type": "quantitative"}, "y": {"field": "zg", "type": "quantitative"}, "color": {"datum": "Studies", "type": "nominal"}}},
                {"data": {"name": "studies"}, "mark": {"type": "text", "fontSize": 3.2, "align": "left", "dx": 2.5, "color": "#3d8fef"}, "encoding": {"x": {"field": "prec", "type": "quantitative"}, "y": {"field": "zg", "type": "quantitative"}, "text": {"field": "study", "type": "nominal"}}},
                {"data": {"values": [{}]}, "mark": {"type": "text", "text": "(D)", "fontSize": 12.5, "align": "left"}, "encoding": {"x": {"datum": -0.2195}, "y": {"datum": 2.552}}},
                {"data": {"values": [{}]}, "mark": {"type": "text", "text": "Galbraith plot", "fontSize": 10.8, "align": "center"}, "encoding": {"x": {"datum": 0.75}, "y": {"datum": 2.331}}},
                {"data": {"values": [{}]}, "mark": {"type": "text", "text": "seⱼ: estimated √(σⱼ² + τ²ʀᴇᴍʟ)", "fontSize": 5.6, "align": "left"}, "encoding": {"x": {"datum": 0.012}, "y": {"datum": -5.104}}}
              ]
            }
          ]
        }
      ]
    }
  ]
}
